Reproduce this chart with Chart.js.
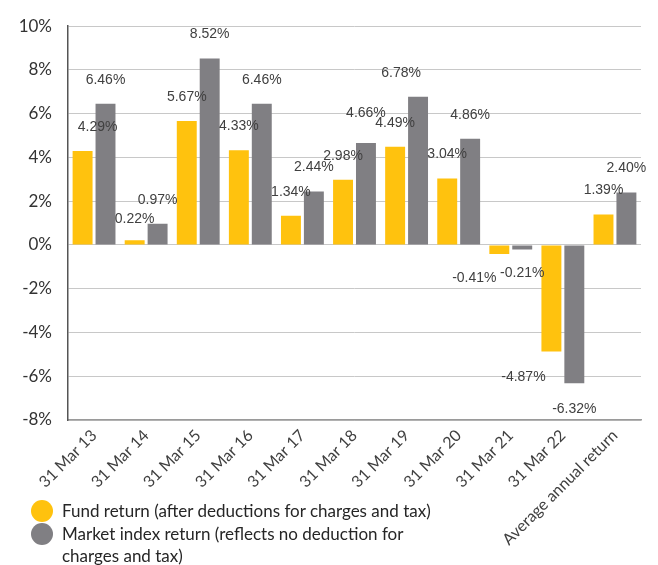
<!DOCTYPE html>
<html>
<head>
<meta charset="utf-8">
<script src="https://cdn.jsdelivr.net/npm/chart.js@4/dist/chart.umd.min.js"></script>
<style>
  html, body { margin: 0; padding: 0; background: #fff; }
  #wrap { position: relative; width: 658px; height: 565px; }
  #legend { position: absolute; left: 31px; top: 500px; font: 17px Lato, sans-serif; color: #262626; }
  .item { position: relative; padding-left: 31px; width: 392px; line-height: 22px; margin-bottom: 1px; }
  .dot { position: absolute; left: 0; width: 22px; height: 22px; border-radius: 50%; }
</style>
</head>
<body>
<div id="wrap">
  <canvas id="chart" width="658" height="565"></canvas>
  <div id="legend"></div>
</div>
<script>
// data
const categories = ["31 Mar 13", "31 Mar 14", "31 Mar 15", "31 Mar 16", "31 Mar 17", "31 Mar 18",
                    "31 Mar 19", "31 Mar 20", "31 Mar 21", "31 Mar 22", "Average annual return"];
const fundReturn = [4.29, 0.22, 5.67, 4.33, 1.34, 2.98, 4.49, 3.04, -0.41, -4.87, 1.39];
const indexReturn = [6.46, 0.97, 8.52, 6.46, 2.44, 4.66, 6.78, 4.86, -0.21, -6.32, 2.40];
const seriesNames = ["Fund return (after deductions for charges and tax)",
                     "Market index return (reflects no deduction for charges and tax)"];
const yMin = -8, yMax = 10, yStep = 2;

const colors = ["#FFC20E", "#807F83"];

// labels above / below each bar
const valueLabels = {
    id: "valueLabels",
    afterDatasetsDraw(chart, args, opts) {
        const ctx = chart.ctx;
        ctx.save();
        ctx.font = opts.font;
        ctx.fillStyle = opts.color;
        ctx.textAlign = "center";
        ctx.textBaseline = "middle";
        chart.data.datasets.forEach(function (ds, di) {
            chart.getDatasetMeta(di).data.forEach(function (bar, i) {
                var v = ds.data[i];
                var n = (opts.nudge[di] && opts.nudge[di][i]) || [0, 0];
                var y = v >= 0 ? bar.y - opts.offset : bar.y + opts.offset;
                ctx.fillText(v.toFixed(2) + "%", bar.x + n[0], y + n[1]);
            });
        });
        ctx.restore();
    }
};

const myChart = new Chart(document.getElementById("chart"), {
    type: "bar",
    data: {
        labels: categories,
        datasets: [{
            label: seriesNames[0],
            data: fundReturn,
            backgroundColor: colors[0],
            categoryPercentage: 0.88,
            barPercentage: 0.87
        }, {
            label: seriesNames[1],
            data: indexReturn,
            backgroundColor: colors[1],
            categoryPercentage: 0.88,
            barPercentage: 0.87
        }]
    },
    options: {
        responsive: false,
        animation: false,
        layout: { padding: { top: 22, right: 17, left: 0, bottom: 0 } },
        plugins: {
            legend: { display: false },
            tooltip: { enabled: false },
            valueLabels: {
                font: "14px 'Liberation Sans', sans-serif",
                color: "#404040",
                offset: 24,
                nudge: {
                    0: { 0: [15, 0], 1: [0, 3], 8: [-25, 0], 9: [-28, 2] },
                    1: { 5: [0, -6], 6: [-17, 0], 9: [0, 2] }
                }
            }
        },
        scales: {
            x: {
                grid: { display: false, drawTicks: false },
                border: { display: true, color: "#9a9a9a", width: 1.5 },
                ticks: {
                    color: "#404040",
                    font: { family: "Lato, sans-serif", size: 16 },
                    minRotation: 45,
                    maxRotation: 45,
                    padding: 6
                },
                afterFit: function (scale) { scale.height = 145; }
            },
            y: {
                min: yMin,
                max: yMax,
                grid: { color: "#c8c8c8", drawTicks: false },
                border: { display: true, color: "#555555", width: 1.5 },
                ticks: {
                    stepSize: yStep,
                    color: "#333333",
                    padding: 16,
                    font: { family: "Lato, sans-serif", size: 17 },
                    callback: function (v) { return v + "%"; }
                },
                afterFit: function (scale) { scale.width = 68; }
            }
        }
    },
    plugins: [valueLabels]
});

// legend below, with wrapping text
var legend = document.getElementById("legend");
myChart.data.datasets.forEach(function (ds) {
    var item = document.createElement("div");
    item.className = "item";
    item.innerHTML = '<span class="dot" style="background:' + ds.backgroundColor + '"></span>' + ds.label;
    legend.appendChild(item);
});
</script>
</body>
</html>
